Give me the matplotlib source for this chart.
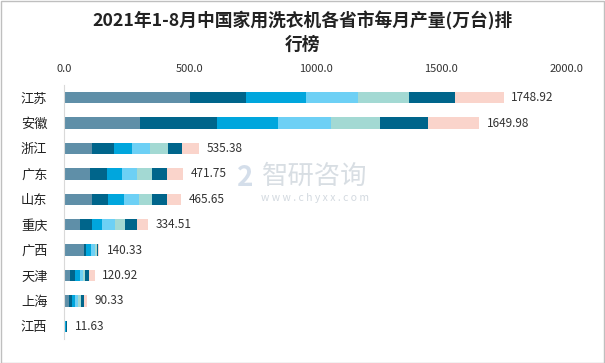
import matplotlib
matplotlib.use('Agg')
import matplotlib.pyplot as plt
import numpy as np

plt.rcParams['font.family'] = ['Noto Sans CJK SC', 'DejaVu Sans']

provinces = ['江苏', '安徽', '浙江', '广东', '山东', '重庆', '广西', '天津', '上海', '江西']
totals = [1748.92, 1649.98, 535.38, 471.75, 465.65, 334.51, 140.33, 120.92, 90.33, 11.63]

# monthly output per province, 1-2月 combined then 3月..8月
m12 = [502, 302, 109, 102, 109, 62, 80, 25, 21, 1.2]
m3 = [220, 305, 88, 68, 64, 48, 7, 19, 10, 1.5]
m4 = [241, 242, 72, 60, 64, 40, 19, 18, 14, 3.5]
m5 = [207, 212, 71, 58, 61, 51, 17, 15, 11, 2.0]
m6 = [201, 197, 75, 60, 50, 41, 9, 8, 11, 1.2]
m7 = [184, 189, 53, 61, 61, 48, 4, 14, 11, 1.2]
m8 = [193.92, 203.98, 67.38, 62.75, 56.65, 44.51, 4.33, 21.92, 12.33, 1.03]
months = [m12, m3, m4, m5, m6, m7, m8]
colors = ['#5F8FA8', '#00658B', '#00A6DD', '#6DD0F5', '#A3D9D3', '#00658B', '#FAD4CB']

fig = plt.figure(figsize=(6.05, 3.63), dpi=100)
ax = fig.add_axes([0.106, 0.066, 0.831, 0.700])

y = np.arange(len(provinces))
left = np.zeros(len(provinces))
for vals, c in zip(months, colors):
    ax.barh(y, vals, left=left, height=0.45, color=c)
    left += np.array(vals)

for yi, t in zip(y, totals):
    ax.text(t + 30, yi, f'{t:.2f}', va='center', ha='left', fontsize=8.5, color='#333333')

ax.set_ylim(len(provinces) - 0.5, -0.5)
ax.set_yticks(y)
ax.set_yticklabels(provinces, fontsize=9.5, color='#222222')
ax.set_xlim(0, 2000)
ax.set_xticks([0, 500, 1000, 1500, 2000])
ax.set_xticklabels(['0.0', '500.0', '1000.0', '1500.0', '2000.0'], fontsize=8, color='#333333')
ax.xaxis.tick_top()
ax.tick_params(axis='y', length=0, pad=12)
ax.tick_params(axis='x', length=0, pad=8)
for s in ['top', 'right', 'bottom']:
    ax.spines[s].set_visible(False)
ax.spines['left'].set_color('#D9D9D9')

fig.text(0.5, 0.968, '2021年1-8月中国家用洗衣机各省市每月产量(万台)排\n行榜',
         ha='center', va='top', fontsize=12.8, fontweight='bold', color='#222222',
         linespacing=1.35)

# watermark
fig.text(0.52, 0.515, '智研咨询', ha='center', va='center', fontsize=19,
         color='#C8D0D8', alpha=0.7)
fig.text(0.52, 0.455, 'w w w . c h y x x . c o m', ha='center', va='center',
         fontsize=7.5, color='#C8D0D8', alpha=0.8)
fig.text(0.405, 0.51, '2', ha='center', va='center', fontsize=20, fontweight='bold',
         color='#B8C8DD', alpha=0.6)

fig.patches.append(plt.Rectangle((0.001, 0.001), 0.997, 0.997, transform=fig.transFigure,
                                 fill=False, edgecolor='#BFBFBF', linewidth=1))

fig.savefig('out.png', dpi=100)
